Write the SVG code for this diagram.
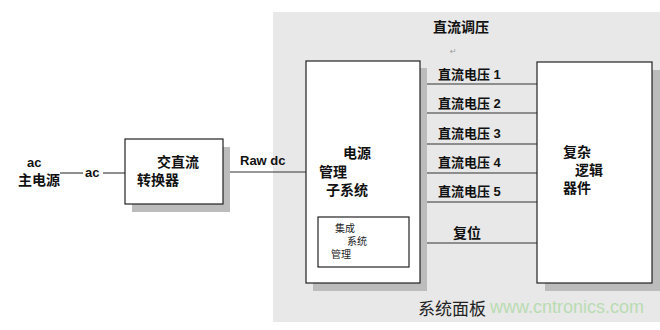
<svg xmlns="http://www.w3.org/2000/svg" width="660" height="330" viewBox="0 0 660 330">
<style>
.box{fill:#fff;stroke:#222;stroke-width:1.2}
.sh{fill:#bcbcbc}
.ln{stroke:#333;stroke-width:1.1;fill:none}
.t{font-family:"Liberation Sans","Noto Sans CJK SC",sans-serif;font-weight:bold;fill:#111;font-size:13px}
.c{font-family:"Noto Sans CJK SC","Liberation Sans",sans-serif;fill:#111;font-size:14px;font-weight:bold}
.s{font-family:"Noto Sans CJK SC",sans-serif;fill:#222;font-size:10px}
</style>
<rect x="273" y="12" width="387" height="310" fill="#e8e8e8"/>
<g id="connectors">
<line class="ln" x1="60" y1="173" x2="83" y2="173"/>
<line class="ln" x1="103" y1="173" x2="125" y2="173"/>
<line class="ln" x1="223" y1="172" x2="306" y2="172"/>
<line class="ln" x1="420" y1="84" x2="537" y2="84"/>
<line class="ln" x1="420" y1="113" x2="537" y2="113"/>
<line class="ln" x1="420" y1="144" x2="537" y2="144"/>
<line class="ln" x1="420" y1="173" x2="537" y2="173"/>
<line class="ln" x1="420" y1="202" x2="537" y2="202"/>
<line class="ln" x1="409" y1="243" x2="537" y2="243"/>
</g>
<g id="source">
<text class="t" x="27" y="167">ac</text>
<text class="c" x="18" y="185">主电源</text>
<text class="t" x="85" y="177">ac</text>
</g>
<g id="converter">
<rect class="sh" x="132" y="147" width="98" height="65"/>
<rect class="box" x="125" y="139" width="98" height="65"/>
<text class="c" x="157" y="167">交直流</text>
<text class="c" x="137" y="185">转换器</text>
</g>
<g id="rawdc">
<text class="t" x="240" y="165">Raw dc</text>
</g>
<g id="panel-labels">
<text class="c" x="433" y="32">直流调压</text>
<text x="450" y="54" font-family="DejaVu Sans,sans-serif" font-size="8" fill="#999">↵</text>
<text x="418" y="315" font-family="Noto Sans CJK SC,sans-serif" font-size="17" fill="#222">系统面板</text>
<text x="490" y="313" font-family="Liberation Sans,sans-serif" font-size="18" fill="#b9dcb2">www.cntronics.com</text>
</g>
<g id="pms">
<rect class="sh" x="313" y="68" width="114" height="223"/>
<rect class="box" x="306" y="61" width="114" height="222"/>
<text class="c" x="343" y="158">电源</text>
<text class="c" x="319" y="177">管理</text>
<text class="c" x="326" y="195">子系统</text>
</g>
<g id="ism">
<rect class="box" x="318" y="217" width="91" height="50"/>
<text class="s" x="335" y="232">集成</text>
<text class="s" x="347" y="245">系统</text>
<text class="s" x="331" y="258">管理</text>
</g>
<g id="voltages">
<text class="t" x="438" y="79">直流电压 1</text>
<text class="t" x="438" y="108">直流电压 2</text>
<text class="t" x="438" y="138">直流电压 3</text>
<text class="t" x="438" y="167">直流电压 4</text>
<text class="t" x="438" y="196">直流电压 5</text>
<text class="c" x="453" y="238">复位</text>
</g>
<g id="logic">
<rect class="sh" x="545" y="70" width="115" height="221"/>
<rect class="box" x="537" y="62" width="115" height="221"/>
<text class="c" x="563" y="157">复杂</text>
<text class="c" x="575" y="175">逻辑</text>
<text class="c" x="563" y="193">器件</text>
</g>
</svg>
